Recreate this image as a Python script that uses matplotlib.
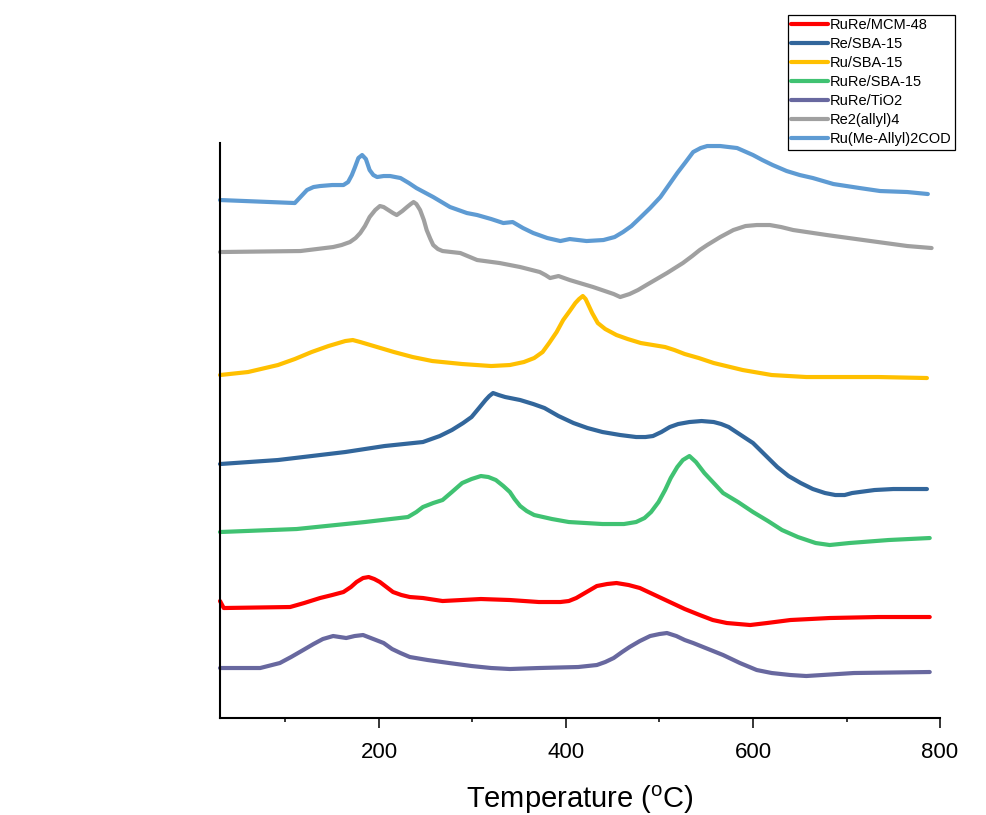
import matplotlib
matplotlib.use("Agg")
import matplotlib.pyplot as plt
from matplotlib.ticker import MultipleLocator

plt.rcParams['font.family'] = ['Liberation Sans', 'DejaVu Sans']

# TPR profiles, signal in arbitrary units (curves offset vertically)
labels = ["RuRe/MCM-48", "Re/SBA-15", "Ru/SBA-15", "RuRe/SBA-15",
          "RuRe/TiO2", "Re2(allyl)4", "Ru(Me-Allyl)2COD"]
colors = ["#FF0000", "#32669B", "#FFC000", "#40C272",
          "#68689F", "#A0A0A0", "#5E9BD3"]

t_mcm48 = [30, 34, 105, 120, 137, 150, 162, 170, 176, 183, 189, 195, 201, 208,
           215, 224, 233, 247, 268, 309, 340, 371, 394, 403, 411, 422, 433, 444,
           454, 467, 479, 495, 511, 527, 543, 557, 572, 597, 615, 640, 682, 734, 789]
s_mcm48 = [117, 110, 111, 115, 120, 123, 126, 131, 136, 140, 141, 139, 136, 131,
           126, 123, 121, 120, 117, 119, 118, 116, 116, 117, 120, 126, 132, 134,
           135, 133, 130, 123, 116, 109, 103, 98, 95, 93, 95, 98, 100, 101, 101]

t_re_sba = [30, 92, 164, 206, 247, 265, 278, 290, 299, 307, 314, 318, 322, 328,
            335, 351, 365, 377, 392, 408, 423, 439, 458, 475, 485, 493, 502, 511,
            520, 532, 545, 558, 566, 574, 587, 600, 613, 626, 638, 651, 664, 677,
            688, 698, 706, 714, 730, 750, 786]
s_re_sba = [254, 258, 266, 272, 276, 282, 288, 295, 301, 310, 318, 322, 325, 323,
            321, 318, 314, 310, 302, 295, 290, 286, 283, 281, 281, 282, 286, 291,
            294, 296, 297, 296, 294, 291, 283, 275, 263, 251, 242, 235, 229, 225,
            223, 223, 225, 226, 228, 229, 229]

t_ru_sba = [30, 60, 92, 110, 128, 146, 164, 172, 180, 198, 216, 236, 257, 289,
            320, 340, 355, 366, 375, 382, 390, 397, 404, 410, 414, 418, 421, 423,
            428, 434, 442, 454, 466, 480, 506, 516, 527, 542, 558, 589, 620, 657,
            734, 786]
s_ru_sba = [343, 346, 353, 359, 366, 372, 377, 378, 376, 371, 366, 361, 357, 354,
            352, 353, 356, 360, 366, 375, 386, 398, 407, 415, 419, 422, 419, 415,
            405, 395, 389, 383, 379, 375, 371, 368, 364, 360, 355, 348, 343, 341,
            341, 340]

t_rure_sba = [30, 112, 185, 231, 240, 247, 258, 268, 278, 289, 299, 309, 317, 325,
              333, 340, 345, 351, 358, 366, 385, 403, 439, 462, 475, 484, 491, 499,
              506, 512, 519, 525, 532, 539, 548, 558, 568, 584, 600, 616, 631, 648,
              667, 682, 703, 745, 789]
s_rure_sba = [186, 189, 196, 201, 206, 211, 215, 218, 226, 235, 239, 242, 241, 238,
              232, 226, 219, 212, 207, 203, 199, 196, 194, 194, 196, 200, 206, 216,
              228, 240, 251, 258, 262, 256, 245, 235, 225, 216, 206, 197, 188, 181,
              175, 173, 175, 178, 180]

t_tio2 = [30, 73, 94, 106, 119, 130, 140, 151, 158, 165, 174, 183, 194, 205,
          214, 223, 233, 252, 275, 299, 320, 340, 371, 413, 433, 442, 451, 460,
          468, 479, 490, 500, 508, 518, 527, 536, 552, 568, 586, 604, 620, 640,
          657, 708, 789]
s_tio2 = [50, 50, 55, 61, 68, 74, 79, 82, 81, 80, 82, 83, 79, 75,
          69, 65, 61, 58, 55, 52, 50, 49, 50, 51, 53, 56, 60, 66,
          71, 77, 82, 84, 85, 82, 78, 75, 69, 63, 55, 48, 45, 43,
          42, 45, 46]

t_re_allyl = [30, 116, 151, 160, 169, 175, 180, 185, 190, 196, 201, 205, 210, 215,
              219, 225, 230, 234, 237, 240, 244, 248, 251, 255, 258, 263, 268, 287,
              305, 329, 351, 372, 378, 383, 392, 404, 429, 451, 458, 468, 477, 486,
              497, 508, 525, 535, 543, 551, 565, 579, 592, 604, 618, 630, 643, 679,
              718, 765, 791]
s_re_allyl = [466, 467, 471, 473, 476, 480, 485, 492, 501, 508, 512, 511, 508, 505,
              503, 507, 511, 514, 516, 514, 508, 498, 488, 479, 473, 469, 467, 465,
              458, 455, 451, 446, 443, 440, 442, 438, 431, 424, 421, 424, 428, 433,
              439, 445, 455, 462, 468, 473, 481, 488, 492, 493, 493, 491, 488, 483,
              478, 472, 470]

t_ru_allyl = [30, 110, 116, 123, 130, 137, 150, 162, 167, 171, 174, 178, 182, 186,
              190, 194, 198, 205, 212, 223, 232, 240, 258, 276, 294, 305, 320, 333,
              343, 354, 365, 380, 394, 404, 422, 440, 452, 461, 470, 479, 490, 501,
              510, 519, 528, 536, 544, 551, 565, 583, 600, 610, 621, 636, 650, 664,
              686, 714, 736, 765, 787]
s_ru_allyl = [518, 515, 521, 528, 531, 532, 533, 533, 536, 543, 550, 560, 563, 559,
              548, 543, 541, 542, 542, 540, 535, 530, 521, 511, 505, 503, 499, 495,
              496, 490, 485, 480, 477, 479, 477, 478, 481, 486, 492, 500, 510, 521,
              533, 545, 556, 566, 570, 572, 572, 570, 563, 558, 553, 547, 543, 540,
              534, 530, 527, 526, 524]

series = [(t_mcm48, s_mcm48), (t_re_sba, s_re_sba), (t_ru_sba, s_ru_sba),
          (t_rure_sba, s_rure_sba), (t_tio2, s_tio2), (t_re_allyl, s_re_allyl),
          (t_ru_allyl, s_ru_allyl)]

fig = plt.figure(figsize=(9.87, 8.15), dpi=100)
ax = fig.add_axes([0.2229, 0.1190, 0.7295, 0.7055])

handles = []
for (t, s), lab, col in zip(series, labels, colors):
    h, = ax.plot(t, s, color=col, lw=3.0, label=lab, solid_joinstyle='round',
                 solid_capstyle='round', clip_on=False)
    handles.append(h)

ax.set_xlim(30, 800)
ax.set_ylim(0, 575)
ax.set_yticks([])
ax.xaxis.set_major_locator(MultipleLocator(200))
ax.xaxis.set_minor_locator(MultipleLocator(100))
ax.tick_params(axis='x', which='major', direction='out', length=7, width=1.1,
               labelsize=16, pad=10)
ax.tick_params(axis='x', which='minor', direction='out', length=3, width=1.1)
for side in ('top', 'right'):
    ax.spines[side].set_visible(False)
for side in ('left', 'bottom'):
    ax.spines[side].set_linewidth(1.5)

ax.set_xlabel("Temperature ($\\mathregular{^{o}}$C)", fontsize=21, labelpad=15)

leg = fig.legend(handles=handles, loc='upper left', bbox_to_anchor=(0.798, 0.982),
                 fontsize=10.5, frameon=True, fancybox=False, edgecolor='black',
                 framealpha=1, handlelength=2.5, handletextpad=0.15,
                 borderpad=0.25, labelspacing=0.34, borderaxespad=0)
leg.get_frame().set_linewidth(0.9)

fig.savefig("out.png", dpi=100)
